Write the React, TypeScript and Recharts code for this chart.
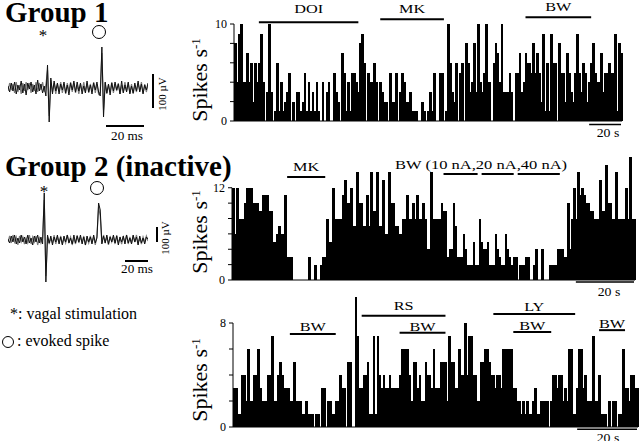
import React from 'react';
import { BarChart, Bar, LineChart, Line, XAxis, YAxis, ReferenceLine } from 'recharts';

// Figure: vagal-evoked units (Group 1 / Group 2) + rate histograms (spikes/s per bin).
const SERIF = '"Liberation Serif", "Times New Roman", Times, serif';

// Group 1 rate histogram (one value per bin)
const group1Rates = [
  8, 4, 9, 10, 4, 4, 7, 4, 6, 2, 6, 4, 6, 9, 4, 0, 3, 10, 3, 0,
  1, 6, 1, 4, 1, 2, 3, 5, 0, 2, 0, 3, 3, 1, 2, 5, 1, 4, 1, 3, 1, 4, 1, 0, 4, 0, 3, 4, 0, 0,
  5, 3, 2, 0, 7, 5, 1, 4, 1, 5, 5, 4, 3, 8, 9, 6, 0, 5, 4, 4, 6, 4, 0, 4, 3, 2, 2, 0, 5, 2,
  2, 5, 0, 3, 5, 4, 2, 2, 3, 1, 1, 1, 0, 0, 2, 1, 0, 1,
  3, 1, 5, 0, 0, 5, 5, 0, 1, 10, 6, 3, 2, 6, 0, 5, 6, 0, 8, 6,
  3, 4, 8, 3, 10, 4, 3, 5, 10, 4, 4, 0, 6, 8, 7, 4, 10, 3, 3, 3,
  5, 3, 0, 5, 5, 7, 3, 4, 7, 6, 6, 5, 8, 5, 7, 5, 2, 9, 1, 6,
  1, 9, 6, 6, 0, 8, 5, 5, 2, 7, 5, 3, 2, 5, 9, 5, 3, 6, 5, 2,
  4, 6, 8, 5, 4, 4, 7, 3, 5, 5, 6, 5, 5, 9, 1, 8, 7,
];

// Group 2 (inactive), upper histogram
const group2Rates = [
  12, 6, 12, 8, 8, 8, 10, 12, 12, 12, 10, 10, 10, 9, 9, 11, 11, 11, 9, 9,
  5, 5, 6, 7, 6, 6, 11, 3, 3, 3, 0, 0, 0, 0, 0, 0, 0, 0, 3, 0,
  0, 2, 0, 0, 2, 3, 3, 8, 5, 5, 12, 8, 8, 8, 8, 11, 13, 10, 10, 12,
  7, 7, 14, 10, 10, 7, 7, 11, 7, 14, 9, 9, 14, 7, 7, 13, 6, 6, 14, 10,
  10, 7, 7, 6, 6, 8, 8, 11, 8, 8, 10, 8, 11, 8, 8, 10, 8, 4, 4, 14,
  8, 8, 8, 8, 10, 9, 9, 3, 4, 4, 10, 7, 3, 3, 3, 6, 4, 2, 2, 2,
  5, 2, 2, 8, 5, 4, 4, 5, 2, 2, 2, 6, 4, 3, 2, 2, 6, 4, 3, 2,
  3, 3, 0, 2, 2, 2, 3, 3, 0, 0, 2, 4, 0, 0, 4, 0, 0, 0, 2, 2,
  2, 2, 4, 4, 4, 3, 3, 10, 4, 8, 12, 8, 14, 11, 12, 11, 10, 10, 9, 9,
  8, 8, 8, 13, 9, 9, 15, 10, 10, 8, 8, 14, 8, 8, 8, 8, 12, 8, 16, 8,
  8,
];

// Group 2, lower histogram
const group2bRates = [
  3, 3, 1, 1, 4, 4, 2, 6, 2, 2, 4, 4, 6, 3, 2, 2, 2, 4, 4, 7,
  2, 2, 4, 5, 4, 3, 3, 3, 2, 2, 5, 2, 2, 2, 1, 1, 2, 1, 1, 1,
  0, 1, 1, 0, 3, 3, 0, 2, 2, 1, 1, 2, 2, 4, 3, 3, 0, 5, 5, 0,
  0, 10, 7, 3, 3, 4, 4, 5, 1, 1, 7, 1, 7, 4, 3, 4, 3, 3, 4, 3,
  3, 3, 3, 4, 6, 6, 6, 6, 4, 2, 5, 5, 3, 4, 2, 2, 5, 4, 4, 3,
  6, 3, 3, 3, 5, 5, 5, 2, 7, 5, 5, 3, 3, 6, 4, 4, 8, 4, 7, 7,
  4, 4, 2, 2, 5, 5, 6, 6, 5, 4, 4, 3, 4, 4, 3, 6, 6, 6, 6, 6,
  3, 3, 2, 2, 1, 2, 1, 2, 1, 1, 2, 3, 1, 1, 2, 2, 2, 2, 0, 2,
  4, 4, 3, 4, 4, 2, 3, 2, 6, 6, 1, 1, 3, 6, 6, 3, 4, 2, 2, 2,
  7, 2, 2, 4, 1, 1, 1, 0, 2, 0, 2, 2, 0, 1, 1, 6, 3, 3, 2, 4,
  4, 3, 3,
];

// raw traces, two superimposed sweeps each
const trace1Black = [
  2, -4, 5, -3, 6, -6, 3, -2, 7, -5, 4, -7, 5, -1, 6, -4, 3, -6, 8, -3,
  4, -5, 2, -8, 23, -34, 10, -6, 7, -3, 5, -6, 4, -2, 6, -5, 3, -7, 5, -2,
  7, -4, 6, -3, 5, -6, 2, -5, 7, -4, 3, -6, 5, -2, 6, -4, -8, 41, -29, 6,
  -5, 4, -7, 5, -3, 6, -2, 4, -6, 7, -5, 3, -4, 6, -6, 2, -5, 5, -3, 7,
  -4, 4, -6, 3, -2, 5,
];
const trace1Grey = [
  -3, 5, -2, 4, -5, 6, -4, 3, -6, 5, -3, 6, -2, 5, -5, 4, -3, 6, -4, 5,
  -2, 6, -4, 3, 18, -28, 8, -4, 5, -6, 4, -3, 6, -5, 4, -6, 5, -3, 6, -4,
  5, -5, 3, -6, 4, -3, 6, -4, 5, -5, 4, -3, 6, -5, 4, -6, -4, 35, -22, 5,
  -6, 3, -4, 6, -5, 4, -3, 5, -6, 3, -4, 6, -3, 5, -5, 4, -6, 3, -4, 5,
  -3, 6, -5, 4, -4, 3,
];
const trace2Black = [
  1, -3, 4, -2, 5, -4, 2, -3, 5, -2, 3, -4, 5, -3, 2, -5, 4, -2, 5, -3,
  3, -4, 47, -42, 5, -3, 4, -5, 3, -2, 5, -4, 3, -5, 4, -2, 5, -3, 2, -4,
  5, -3, 4, -2, 5, -4, 3, -5, 4, -2, 3, -4, 5, -3, 2, 37, 30, -4, 4, -3,
  5, -4, 3, -2, 5, -3, 4, -5, 3, -2, 4, -4, 5, -3, 2, -4, 5, -2, 3, -5,
  4, -3, 2, -4, 3, 1,
];
const trace2Grey = [
  -2, 4, -3, 5, -2, 3, -5, 4, -2, 3, -4, 2, -3, 5, -4, 3, -2, 4, -5, 2,
  -3, 2, 40, -36, 3, -4, 2, -3, 5, -4, 3, -2, 4, -4, 2, -3, 5, -2, 3, -5,
  2, -4, 5, -3, 3, -2, 4, -5, 2, -3, 4, -2, 3, -5, 4, 33, 24, -3, 5, -2,
  3, -5, 4, -2, 3, -4, 5, -3, 2, -4, 3, -2, 5, -4, 3, -3, 4, -2, 5, -3,
  2, -4, 3, -2, 4, -1,
];

// drug / stimulation periods as bin ranges
const group1Stims = [
  { label: 'DOI', from: 12, to: 62, y: 10.17, offset: 9 },
  { label: 'MK', from: 73, to: 105, y: 10.5, offset: 6 },
  { label: 'BW', from: 146, to: 179, y: 10.7, offset: 6 },
];
const group2Stims = [
  { label: 'MK', from: 27, to: 46, y: 13.4, offset: 6 },
  { label: '', from: 105, to: 122, y: 13.8, offset: 0 },
  { label: '', from: 124, to: 140, y: 13.8, offset: 0 },
  { label: '', from: 142, to: 163, y: 13.8, offset: 0 },
];
const group2bStims = [
  { label: 'BW', from: 28, to: 51, y: 7.15, offset: 3 },
  { label: 'RS', from: 64, to: 106, y: 8.55, offset: 6 },
  { label: 'BW', from: 83, to: 106, y: 7.25, offset: 2 },
  { label: 'LY', from: 130, to: 171, y: 8.7, offset: 3 },
  { label: 'BW', from: 140, to: 159, y: 7.3, offset: 2 },
  { label: 'BW', from: 183, to: 196, y: 7.45, offset: 2 },
];

// the scan is wider than tall, so small text gets a horizontal stretch
const STRETCH = 1.25;

function Txt({ x, base, size, children, bold = false, center = false, sx = 1, lh = 1 }: any) {
  // baseline offset inside a line box for Liberation Serif (ascent .891, descent .216)
  const toBase = ((lh - 1.107) / 2 + 0.891) * size;
  return (
    <div
      style={{
        position: 'absolute',
        left: x,
        top: base - toBase,
        fontSize: size,
        lineHeight: lh,
        fontWeight: bold ? 'bold' : 'normal',
        whiteSpace: 'nowrap',
        transformOrigin: 'left top',
        transform: center ? `scaleX(${sx}) translateX(-50%)` : `scaleX(${sx})`,
      }}
    >
      {children}
    </div>
  );
}

function Rotated({ cx, cy, size, children }: any) {
  return (
    <div
      style={{
        position: 'absolute',
        left: cx,
        top: cy,
        fontSize: size,
        lineHeight: 1,
        whiteSpace: 'nowrap',
        transform: 'translate(-50%, -50%) rotate(-90deg)',
      }}
    >
      {children}
    </div>
  );
}

// stim label centred above its line
const stimLabel = (text: string, offset: number) => (props: any) => {
  const vb = props.viewBox || {};
  const cx = (vb.x || 0) + (vb.width || 0) / 2;
  const y = (vb.y || 0) - offset;
  return (
    <text
      transform={`translate(${cx},${y}) scale(${STRETCH},1)`}
      textAnchor="middle"
      fontSize={13}
      fontFamily={SERIF}
      fill="#000"
    >
      {text}
    </text>
  );
};

// bins slightly overlap + crisp edges, so neighbouring bars leave no hairline seams
const binShape = (p: any) => (
  <rect
    x={p.x}
    y={p.y}
    width={Math.max(0, p.width + 0.8)}
    height={Math.max(0, p.height)}
    fill="#000"
    shapeRendering="crispEdges"
  />
);

function Histogram({ rates, left, top, width, height, yWidth, xHeight, marginTop, marginRight, yMax, tickMax, stims, scale }: any) {
  const data = rates.map((v: number, i: number) => ({ i, v }));
  const ticks: number[] = [];
  for (let t = 0; t <= tickMax; t += 2) ticks.push(t);
  return (
    <div style={{ position: 'absolute', left, top }}>
      <BarChart
        width={width}
        height={height}
        data={data}
        margin={{ top: marginTop, right: marginRight, left: 0, bottom: 0 }}
        barCategoryGap={0}
        barGap={0}
      >
        <XAxis dataKey="i" tick={false} tickLine={false} height={xHeight} axisLine={{ stroke: '#000' }} />
        <YAxis
          width={yWidth}
          domain={[0, yMax]}
          ticks={ticks}
          axisLine={false}
          stroke="#000"
          tickSize={4}
          tickMargin={3}
          tick={{ fontSize: 12, fill: '#000', fontFamily: SERIF }}
          tickFormatter={(t: number) => (t === 0 || t === tickMax ? String(t) : '')}
        />
        <Bar dataKey="v" fill="#000" shape={binShape} isAnimationActive={false} />
        <ReferenceLine
          segment={[{ x: 0, y: 0 }, { x: 0, y: tickMax }]}
          position="start"
          stroke="#000"
          ifOverflow="visible"
        />
        {stims.map((s: any, k: number) => (
          <ReferenceLine
            key={k}
            segment={[{ x: s.from, y: s.y }, { x: s.to, y: s.y }]}
            stroke="#000"
            strokeWidth={2}
            ifOverflow="visible"
            label={s.label ? stimLabel(s.label, s.offset) : undefined}
          />
        ))}
        <ReferenceLine
          segment={[{ x: scale.from, y: scale.y }, { x: scale.to, y: scale.y }]}
          stroke="#000"
          strokeWidth={1.5}
          ifOverflow="visible"
        />
      </BarChart>
    </div>
  );
}

function Trace({ black, grey, left, top, width, height, domain }: any) {
  const data = black.map((v: number, i: number) => ({ i, a: v, b: grey[i] }));
  return (
    <div style={{ position: 'absolute', left, top }}>
      <LineChart width={width} height={height} data={data} margin={{ top: 0, right: 0, left: 0, bottom: 0 }}>
        <XAxis dataKey="i" hide />
        <YAxis hide domain={domain} />
        <Line dataKey="b" stroke="#7a7a7a" strokeWidth={1.2} dot={false} isAnimationActive={false} />
        <Line dataKey="a" stroke="#111" strokeWidth={1} dot={false} isAnimationActive={false} />
      </LineChart>
    </div>
  );
}

const bar = (left: number, top: number, w: number, h: number) => (
  <div style={{ position: 'absolute', left, top, width: w, height: h, background: '#000' }} />
);

const ring = (cx: number, cy: number, r: number) => (
  <div
    style={{
      position: 'absolute',
      left: cx - r,
      top: cy - r,
      width: 2 * r,
      height: 2 * r,
      border: '1px solid #000',
      borderRadius: '50%',
      boxSizing: 'border-box',
    }}
  />
);

const spikes = (
  <>
    Spikes s<sup style={{ fontSize: 13, verticalAlign: 'top', lineHeight: 1 }}>-1</sup>
  </>
);

export default function App() {
  return (
    <div
      style={{
        position: 'absolute',
        left: 0,
        top: 0,
        width: 640,
        height: 441,
        overflow: 'hidden',
        background: '#fff',
        color: '#000',
        fontFamily: SERIF,
      }}
    >
      {/* left column: titles, raw traces, legend */}
      <Txt x={5} base={22} size={29} lh={0.8} bold>Group 1</Txt>
      <Txt x={43} base={42} size={17} lh={0.8} center>*</Txt>
      {ring(99, 32, 7)}
      <Trace black={trace1Black} grey={trace1Grey} left={8} top={43} width={140} height={90} domain={[-45, 45]} />
      {bar(152, 74, 1.5, 34)}
      <Rotated cx={162} cy={94} size={11}>100 µV</Rotated>
      {bar(106, 125, 38, 1.5)}
      <Txt x={127} base={140} size={12} sx={1.1} center>20 ms</Txt>

      <Txt x={5} base={176} size={29} lh={0.8} bold>Group 2 (inactive)</Txt>
      <Txt x={44} base={198} size={17} lh={0.8} center>*</Txt>
      {ring(97, 188, 7)}
      <Trace black={trace2Black} grey={trace2Grey} left={8} top={190} width={140} height={95} domain={[-45, 50]} />
      {bar(156, 227, 1.5, 15)}
      <Rotated cx={165} cy={238} size={11}>100 µV</Rotated>
      {bar(125, 260, 23, 1.5)}
      <Txt x={137} base={273} size={12} sx={1.1} center>20 ms</Txt>

      <Txt x={10} base={319} size={16}>*: vagal stimulation</Txt>
      {ring(8, 342, 6)}
      <Txt x={17} base={346} size={16}>: evoked spike</Txt>

      {/* histograms */}
      <Histogram
        rates={group1Rates}
        left={190}
        top={0}
        width={450}
        height={140}
        yWidth={44}
        xHeight={19}
        marginTop={24}
        marginRight={18}
        yMax={10}
        tickMax={10}
        stims={group1Stims}
        scale={{ from: 178, to: 194, y: -0.35 }}
      />
      <Rotated cx={200} cy={80} size={22}>{spikes}</Rotated>
      <Txt x={608} base={137} size={12} sx={1.15} center>20 s</Txt>

      <Histogram
        rates={group2Rates}
        left={190}
        top={140}
        width={450}
        height={160}
        yWidth={42}
        xHeight={20}
        marginTop={17}
        marginRight={5}
        yMax={16}
        tickMax={12}
        stims={group2Stims}
        scale={{ from: 171, to: 200, y: -0.26 }}
      />
      <Rotated cx={200} cy={232} size={22}>{spikes}</Rotated>
      <Txt x={395} base={169} size={13} sx={1.27}>BW (10 nA,20 nA,40 nA)</Txt>
      <Txt x={609} base={296} size={12} sx={1.15} center>20 s</Txt>

      <Histogram
        rates={group2bRates}
        left={190}
        top={284}
        width={450}
        height={157}
        yWidth={43}
        xHeight={14}
        marginTop={0}
        marginRight={2}
        yMax={11}
        tickMax={8}
        stims={group2bStims}
        scale={{ from: 172, to: 202, y: -0.17 }}
      />
      <Rotated cx={200} cy={380} size={22}>{spikes}</Rotated>
      <Txt x={608} base={442} size={12} sx={1.15} center>20 s</Txt>
    </div>
  );
}
